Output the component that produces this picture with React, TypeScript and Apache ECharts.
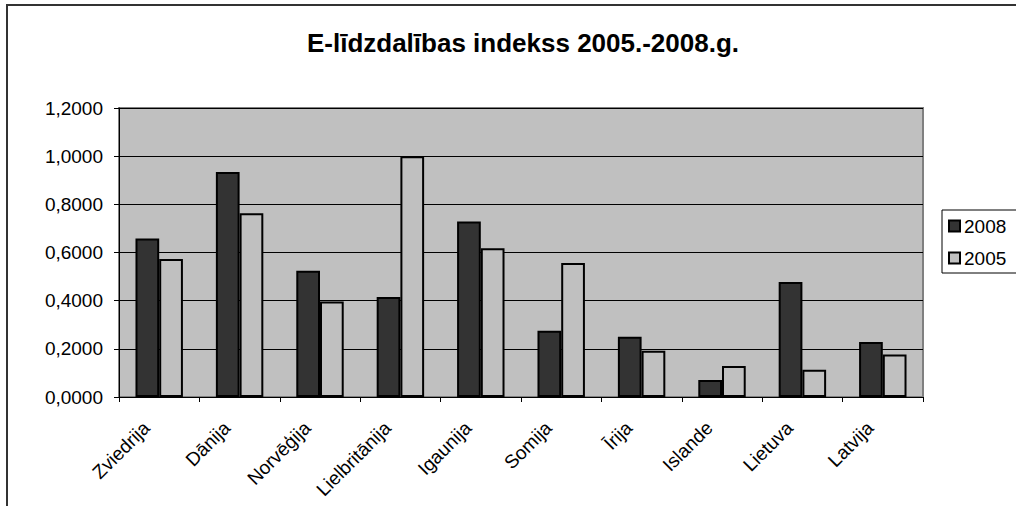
import React, { useEffect, useRef } from "react";
import * as echarts from "echarts";

const categories = ["Zviedrija", "Dānija", "Norvēģija", "Lielbritānija", "Igaunija", "Somija", "Īrija", "Islande", "Lietuva", "Latvija"];
const values2008 = [0.658, 0.934, 0.524, 0.415, 0.729, 0.275, 0.25, 0.071, 0.478, 0.228];
const values2005 = [0.573, 0.763, 0.397, 1.0, 0.618, 0.556, 0.192, 0.129, 0.113, 0.176];
const seriesNames = ["2008", "2005"];
const titleText = "E-līdzdalības indekss 2005.-2008.g.";

const FONT = "'Liberation Sans', Arial, Helvetica, sans-serif";

export default function App() {
  const ref = useRef<HTMLDivElement>(null);
  useEffect(() => {
    if (!ref.current) return;
    const chart = echarts.init(ref.current, null, { renderer: "svg" });
    chart.setOption({
      animation: false,
      backgroundColor: "#ffffff",
      textStyle: { fontFamily: FONT, color: "#000" },
      title: {
        text: titleText,
        left: 518,
        textAlign: "center",
        top: 25,
        textStyle: { fontFamily: FONT, fontSize: 26, fontWeight: "bold", color: "#000" },
      },
      graphic: [
        {
          type: "rect",
          shape: { x: 7, y: 5, width: 1100, height: 600 },
          style: { fill: "none", stroke: "#333", lineWidth: 2 },
          silent: true,
        },
        {
          type: "rect",
          shape: { x: 942, y: 210, width: 120, height: 63 },
          style: { fill: "#fff", stroke: "#000", lineWidth: 1 },
          silent: true,
          z: 0,
        },
      ],
      legend: {
        orient: "vertical",
        left: 948,
        top: 216,
        padding: 0,
        itemWidth: 11,
        itemHeight: 11,
        itemGap: 12,
        icon: "rect",
        data: seriesNames,
        textStyle: { fontFamily: FONT, fontSize: 19, lineHeight: 20, color: "#000", padding: [0, 0, 0, -1] },
        z: 10,
      },
      grid: {
        left: 119,
        right: 93,
        top: 108,
        bottom: 109,
        show: true,
        backgroundColor: "#c0c0c0",
        borderColor: "#808080",
        borderWidth: 2,
      },
      xAxis: {
        type: "category",
        data: categories,
        axisLine: { lineStyle: { color: "#000", width: 1 } },
        axisTick: { show: true, length: 5, lineStyle: { color: "#000" } },
        axisLabel: {
          interval: 0,
          rotate: 45,
          margin: 15,
          padding: [0, 18, 0, 0],
          fontSize: 19,
          fontFamily: FONT,
          color: "#000",
        },
      },
      yAxis: {
        type: "value",
        min: 0,
        max: 1.2,
        interval: 0.2,
        axisLine: { show: true, lineStyle: { color: "#000", width: 1 } },
        axisTick: { show: true, length: 5, lineStyle: { color: "#000" } },
        splitLine: { show: true, lineStyle: { color: "#000", width: 1 } },
        axisLabel: {
          margin: 16,
          fontSize: 19,
          fontFamily: FONT,
          color: "#000",
          formatter: (v: number) => v.toFixed(4).replace(".", ","),
        },
      },
      series: [
        {
          name: seriesNames[0],
          type: "bar",
          data: values2008,
          barGap: "0%",
          barCategoryGap: "41%",
          itemStyle: { color: "#333333", borderColor: "#000", borderWidth: 2 },
        },
        {
          name: seriesNames[1],
          type: "bar",
          data: values2005,
          itemStyle: { color: "#c0c0c0", borderColor: "#000", borderWidth: 2 },
        },
      ],
    });
    return () => chart.dispose();
  }, []);
  return (
    <div
      ref={ref}
      style={{ position: "absolute", left: 0, top: 0, width: 1016, height: 506 }}
    />
  );
}
